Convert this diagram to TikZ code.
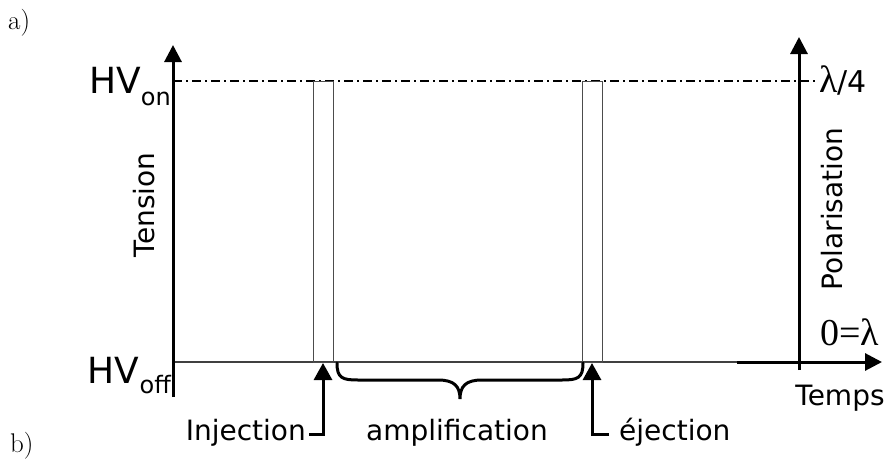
\documentclass[tikz,border=0pt]{standalone}
\usepackage{fontspec}
\newfontfamily\lblfont{DejaVu Sans}
\newfontfamily\serfont{Liberation Serif}
\usetikzlibrary{arrows.meta}
\tikzset{
  axisline/.style={line width=3pt,-{Triangle[width=17pt,length=17pt]}},
  ptrline/.style={line width=3pt,-{Triangle[width=18pt,length=17pt]}},
  thinline/.style={line width=1.2pt,draw=black!75},
  pulse/.style={line width=1pt,draw=black!70},
  lbl/.style={inner sep=0pt,font=\lblfont\fontsize{28}{30}\selectfont},
  hvlbl/.style={inner sep=0pt,font=\lblfont},
  serlbl/.style={inner sep=0pt,font=\serfont\fontsize{38}{40}\selectfont},
  partlabel/.style={inner sep=0pt,font=\fontsize{27}{30}\selectfont}
}
\begin{document}
\begin{tikzpicture}[x=1pt,y=-1pt]
\useasboundingbox (0,0) rectangle (884,463);
% coordinates
\coordinate (lbot) at (173,397);
\coordinate (ltop) at (173,45);
\coordinate (rbot) at (799,370);
\coordinate (rtop) at (799,37);
\coordinate (b0) at (173,362);
\coordinate (b1) at (737,362);
\coordinate (b2) at (882,362);
\coordinate (d0) at (173,81);
\coordinate (d1) at (817,81);
% baseline and dash-dot
\draw[thinline] (b0) -- (b1);
\draw[line width=1.5pt,dash pattern=on 9pt off 4pt on 2pt off 4pt] (d0) -- (d1);
% pulses
\draw[pulse] (313,362) rectangle (333,81);
\draw[pulse] (582,362) rectangle (602,81);
% axes
\draw[axisline] (lbot) -- (ltop);
\draw[axisline] (rbot) -- (rtop);
\draw[axisline] (b1) -- (b2);
% brace
\draw[line width=3pt,line cap=round]
  (337,363) .. controls (337,378) and (342,380) .. (358,380) -- (438,380)
  .. controls (454,380) and (460,386) .. (460,399)
  .. controls (460,386) and (466,380) .. (482,380) -- (562,380)
  .. controls (578,380) and (583,378) .. (583,363);
% pointers
\coordinate (inj0) at (309,434);
\coordinate (inj1) at (323,434);
\coordinate (inj2) at (323,363);
\draw[ptrline] (inj0) -- (inj1) -- (inj2);
\coordinate (ej0) at (609,434);
\coordinate (ej1) at (592,434);
\coordinate (ej2) at (592,363);
\draw[ptrline] (ej0) -- (ej1) -- (ej2);
% labels
\node[partlabel,anchor=base west] (ta) at (8,30) {a)};
\node[partlabel,anchor=base west] (tb) at (10,452) {b)};
\node[hvlbl,anchor=base east] (hvon) at (171,93) {\fontsize{36}{36}\selectfont HV\fontsize{24}{24}\selectfont\raisebox{-12pt}{on}};
\node[hvlbl,anchor=base east] (hvoff) at (171,383) {\fontsize{36}{36}\selectfont HV\fontsize{24}{24}\selectfont\raisebox{-10pt}{off}};
\node[lbl,rotate=90] (tension) at (144,205) {Tension};
\node[lbl,rotate=90] (polar) at (832,209) {Polarisation};
\node[anchor=base west,inner sep=0pt] (lq) at (819,92) {\serfont\fontsize{38}{40}\selectfont λ\lblfont\fontsize{30}{30}\selectfont/4};
\node[serlbl,anchor=base west] (lz) at (820,345) {0=λ};
\node[lbl,anchor=base] (temps) at (840,405) {Temps};
\node[lbl,anchor=base east] (inj) at (306,440) {Injection};
\node[lbl,anchor=base] (amp) at (457,440) {amplification};
\node[lbl,anchor=base west] (ej) at (619,440) {éjection};
\end{tikzpicture}
\end{document}
